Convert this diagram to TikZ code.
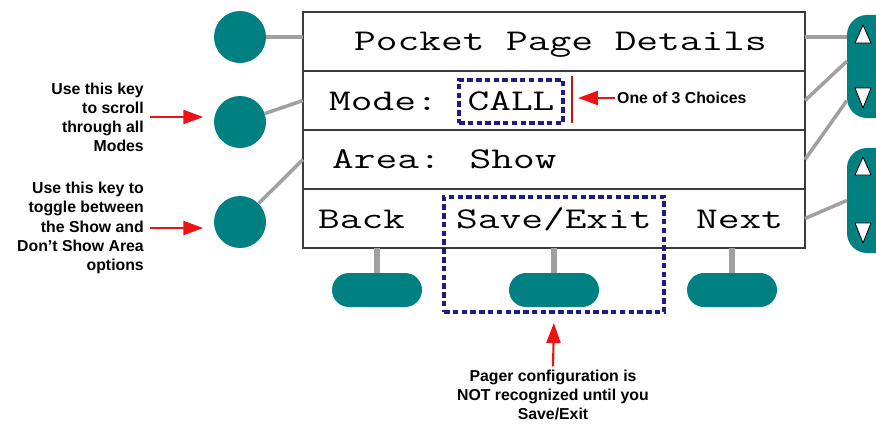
\documentclass[tikz,border=0pt]{standalone}
\usepackage{graphicx}
\usepackage{fontspec}
\setmainfont{Liberation Sans}
\usetikzlibrary{positioning,arrows.meta,calc}

\definecolor{keyteal}{RGB}{0,128,128}
\definecolor{selnavy}{RGB}{28,28,130}
\definecolor{wiregray}{RGB}{160,160,160}
\definecolor{framegray}{RGB}{60,60,60}
\definecolor{pointred}{RGB}{235,20,20}

\newcommand{\lcdtext}[1]{\scalebox{1.4}[1]{#1}}

\begin{document}
\begin{tikzpicture}[
    x=0.03cm, y=-0.03cm,
    lcdrow/.style={draw=framegray, line width=1.6pt, outer sep=0pt, minimum width=15.06cm, minimum height=1.77cm},
    lcd/.style={font=\ttfamily\fontsize{25.7}{30}\selectfont, inner sep=0pt},
    roundkey/.style={circle, fill=keyteal, minimum size=1.56cm, inner sep=0pt},
    flatkey/.style={rectangle, rounded corners=0.51cm, fill=keyteal, minimum width=2.7cm, minimum height=1.02cm},
    sidekey/.style={rectangle, rounded corners=0.6cm, fill=keyteal, minimum width=1.5cm},
    keytri/.style={draw=black, fill=white, line width=0.7pt, line join=round},
    wire/.style={draw=wiregray, line width=3pt},
    stem/.style={draw=wiregray, line width=4.5pt},
    selbox/.style={draw=selnavy, line width=2.8pt, dash pattern=on 4.7pt off 2.8pt},
    note/.style={font=\fontsize{13.5}{16.3}\selectfont\bfseries, inner sep=0pt},
    pointer/.style={draw=pointred, line width=1.8pt, -{Triangle[length=17pt, width=12pt]}}
]
    \useasboundingbox (0,0) rectangle (876,423);

    % --- Display rows ---
    \node[lcdrow] (r1) at (554,41.5) {};
    \node[lcdrow, below=0pt of r1] (r2) {};
    \node[lcdrow, below=0pt of r2] (r3) {};
    \node[lcdrow, below=0pt of r3] (r4) {};

    \node[lcd, anchor=base west] (ttl) at (354,51) {\lcdtext{Pocket Page Details}};
    \node[lcd, anchor=base west] (mlbl) at (329,110) {\lcdtext{Mode:}};
    \node[lcd, selbox, minimum width=3.12cm, minimum height=1.29cm] (mode) at (511,101.5) {\lcdtext{CALL}};
    \node[lcd, anchor=base west] (area) at (332,168) {\lcdtext{Area: Show}};
    \node[lcd, anchor=base west] (back) at (318,228) {\lcdtext{Back}};
    \node[lcd, anchor=base west] (save) at (456,228) {\lcdtext{Save/Exit}};
    \node[lcd, anchor=base west] (next) at (696,228) {\lcdtext{Next}};

    % --- Left: round keys ---
    \foreach \i/\y in {1/37, 2/122, 3/222} {
        \node[roundkey] (lk\i) at (240,\y) {};
    }
    \draw[wire] (lk1) -- (lk1 -| r1.west);
    \draw[wire] (lk2) -- (r2.west);
    \draw[wire] (lk3) -- (r3.west);

    % --- Right: scroll keys ---
    \node[sidekey, minimum height=3.09cm] (rk1) at (872,66.5) {};
    \node[sidekey, minimum height=3.15cm] (rk2) at (872,200.5) {};
    \foreach \yu/\yd in {25/88, 157/223} {
        \draw[keytri] (863,\yu) -- (871,\yu+18) -- (855,\yu+18) -- cycle;
        \draw[keytri] (855,\yd) -- (871,\yd) -- (863,\yd+20) -- cycle;
    }
    \draw[wire] (r1.east |- lk1) -- (rk1.west |- lk1);
    \draw[wire] (r2.east) -- ($(rk1.north west)!0.45!(rk1.south west)$);
    \draw[wire] (r3.east) -- ($(rk1.north west)!0.83!(rk1.south west)$);
    \draw[wire] (r4.east) -- ($(rk2.north west)!0.5!(rk2.south west)$);

    % --- Bottom: soft keys ---
    \foreach \i/\x in {1/377, 2/554, 3/732} {
        \node[flatkey] (bk\i) at (\x,290) {};
        \draw[stem] (bk\i) -- (bk\i |- r4.south);
    }
    \node[selbox, minimum width=6.6cm, minimum height=3.45cm] (sel) at (554,254.5) {};

    % --- Notes ---
    \node[note, anchor=east, align=right] (nt1) at (144,117)
        {Use this key\\to scroll\\through all\\Modes};
    \node[note, anchor=east, align=right] (nt2) at (144,228)
        {Use this key to\\toggle between\\the Show and\\Don't Show Area\\options};
    \node[note, align=center] (nt3) at (553,395)
        {Pager configuration is\\NOT recognized until you\\Save/Exit};
    \node[note, anchor=west] (nt4) at (617,98) {One of 3 Choices};

    \draw[pointred!85!black, line width=1.2pt] (572,76) -- (572,123);
    \coordinate (bartip) at (578,98);

    \draw[pointer, shorten <=5pt, shorten >=9pt] (nt1.east) -- (nt1.east -| lk2.west);
    \draw[pointer, shorten <=5pt, shorten >=9pt] (nt2.east) -- (nt2.east -| lk3.west);
    \draw[pointer, shorten <=2pt] (nt4.west) -- (bartip);
    \draw[pointer, shorten <=3pt, shorten >=8pt] (nt3.north) -- (sel.south);

\end{tikzpicture}
\end{document}
